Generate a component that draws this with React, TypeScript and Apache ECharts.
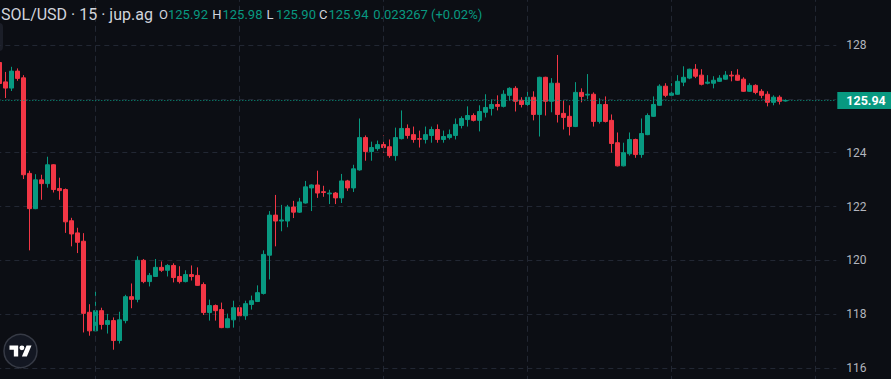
import React, { useEffect, useRef } from "react";
import * as echarts from "echarts";

// ---- data (15-minute candles, SOL/USD) ----
const opens = [
  127.35, 126.63, 126.40, 127.03, 126.78, 123.23, 121.92, 122.99, 122.85, 123.55,
  122.67, 122.63, 121.47, 121.02, 120.71, 118.07, 117.38, 118.13, 117.62, 117.76,
  117.02, 117.76, 118.65, 118.55, 120.00, 119.21, 119.40, 119.74, 119.63, 119.81,
  119.40, 119.21, 119.47, 119.44, 119.10, 118.06, 118.32, 118.17, 117.50, 117.79,
  118.24, 117.94, 118.36, 118.47, 118.77, 120.19, 121.68, 121.46, 121.46, 121.98,
  121.79, 122.13, 122.69, 122.80, 122.55, 122.47, 122.50, 122.32, 122.95, 122.69,
  123.36, 124.56, 124.04, 124.15, 124.30, 124.22, 123.89, 124.52, 124.90, 124.67,
  124.52, 124.49, 124.64, 124.86, 124.49, 124.56, 124.64, 125.01, 125.23, 125.38,
  125.20, 125.50, 125.64, 125.79, 125.72, 126.13, 126.39, 125.94, 125.79, 126.06,
  125.42, 126.80, 125.91, 126.58, 125.46, 125.35, 124.97, 126.24, 126.14, 126.17,
  125.16, 125.79, 125.20, 124.37, 123.51, 123.96, 124.49, 123.93, 124.67, 125.35,
  125.76, 126.47, 126.13, 126.17, 126.62, 126.77, 127.10, 126.88, 126.58, 126.58,
  126.65, 126.73, 126.88, 126.88, 126.73, 126.28, 126.50, 126.28, 126.17, 125.87,
  126.06, 125.92,
];
const highs = [
  127.45, 127.00, 127.19, 127.13, 126.88, 123.33, 123.20, 123.18, 123.85, 123.57,
  123.07, 122.67, 121.58, 121.21, 121.01, 118.37, 118.92, 118.24, 118.01, 117.88,
  118.09, 118.72, 119.14, 120.15, 120.05, 119.53, 120.05, 119.96, 119.86, 119.89,
  119.78, 119.63, 119.81, 119.74, 119.18, 118.54, 118.36, 118.43, 118.02, 118.50,
  118.32, 118.50, 118.69, 119.07, 120.37, 121.83, 122.43, 122.06, 122.06, 122.21,
  122.32, 122.95, 122.82, 123.33, 122.77, 122.62, 122.54, 123.21, 122.99, 123.55,
  125.27, 124.64, 124.41, 124.45, 124.64, 124.49, 124.93, 125.57, 125.05, 124.97,
  124.82, 124.97, 124.97, 125.05, 124.82, 124.86, 125.27, 125.35, 125.72, 125.46,
  125.76, 126.17, 125.98, 126.13, 126.32, 126.43, 126.47, 126.06, 126.28, 126.28,
  126.82, 126.82, 126.77, 127.63, 125.94, 125.76, 126.62, 126.39, 126.92, 126.24,
  126.02, 126.09, 125.42, 124.75, 124.37, 124.75, 124.52, 125.27, 125.46, 126.09,
  126.54, 126.58, 126.58, 126.88, 127.21, 127.12, 127.29, 127.10, 126.88, 126.84,
  126.88, 127.03, 127.03, 127.10, 126.80, 126.58, 126.54, 126.36, 126.28, 126.13,
  126.13, 125.98,
];
const lows = [
  126.52, 126.03, 126.29, 126.67, 123.02, 120.37, 121.90, 122.25, 122.70, 122.52,
  122.25, 121.02, 120.52, 120.27, 117.32, 117.20, 117.35, 117.43, 117.28, 116.68,
  116.91, 117.66, 118.22, 118.44, 119.15, 119.03, 119.38, 119.57, 119.40, 119.18,
  119.14, 119.18, 119.25, 119.05, 117.97, 117.76, 117.76, 117.48, 117.48, 117.50,
  117.83, 117.79, 118.17, 118.45, 118.73, 119.29, 120.52, 121.08, 121.23, 121.57,
  121.76, 122.11, 121.83, 122.32, 122.36, 122.09, 122.09, 122.13, 122.58, 122.54,
  123.33, 123.70, 123.70, 124.07, 124.00, 123.81, 123.70, 124.49, 124.52, 124.37,
  124.19, 124.34, 124.37, 124.37, 124.37, 124.49, 124.49, 124.90, 124.97, 125.16,
  124.79, 125.31, 125.38, 125.57, 125.68, 125.94, 125.53, 125.68, 125.68, 125.20,
  124.60, 125.38, 125.50, 125.12, 124.86, 124.64, 124.95, 125.87, 125.98, 124.97,
  125.08, 125.12, 124.00, 123.49, 123.49, 123.89, 123.81, 123.81, 124.65, 125.33,
  125.74, 126.06, 125.91, 126.15, 126.47, 126.73, 126.77, 126.50, 126.54, 126.39,
  126.63, 126.71, 126.65, 126.67, 126.26, 126.26, 126.17, 126.02, 125.72, 125.76,
  125.79, 125.90,
];
const closes = [
  126.57, 126.40, 127.03, 126.76, 123.18, 121.92, 122.99, 122.85, 123.55, 122.63,
  122.59, 121.43, 120.98, 120.67, 118.03, 117.38, 118.13, 117.62, 117.76, 117.02,
  117.79, 118.65, 118.55, 120.00, 119.21, 119.44, 119.74, 119.63, 119.81, 119.36,
  119.21, 119.47, 119.40, 119.07, 118.06, 118.32, 118.13, 117.50, 117.83, 118.24,
  117.94, 118.39, 118.50, 118.80, 120.22, 121.68, 121.46, 121.50, 121.98, 121.79,
  122.17, 122.73, 122.80, 122.50, 122.52, 122.50, 122.32, 122.95, 122.69, 123.40,
  124.56, 124.04, 124.19, 124.30, 124.19, 123.89, 124.56, 124.90, 124.64, 124.49,
  124.50, 124.67, 124.86, 124.49, 124.60, 124.67, 125.05, 125.27, 125.38, 125.20,
  125.53, 125.68, 125.79, 125.72, 126.17, 126.39, 125.91, 125.79, 126.06, 125.42,
  126.80, 125.91, 126.58, 125.42, 125.31, 124.97, 126.24, 126.09, 126.17, 125.16,
  125.79, 125.16, 124.34, 123.51, 124.00, 124.49, 123.93, 124.71, 125.38, 125.79,
  126.47, 126.13, 126.21, 126.65, 126.80, 127.10, 126.84, 126.54, 126.62, 126.69,
  126.77, 126.88, 126.85, 126.69, 126.28, 126.50, 126.24, 126.13, 125.87, 126.06,
  125.91, 125.94,
];

// category slots: one per 15 minutes, starting 20:00 of the previous day
const slotCount = 140;
const times: string[] = [];
for (let i = 0; i < slotCount; i++) {
  const mins = 20 * 60 + i * 15;
  const day = Math.floor(mins / 1440) + 1;
  const hh = Math.floor((mins % 1440) / 60);
  const mm = mins % 60;
  times.push(`D${day} ${String(hh).padStart(2, "0")}:${String(mm).padStart(2, "0")}`);
}
const gridTimes = ["D2 00:00", "D2 06:00", "D2 12:00", "D2 18:00", "D3 00:00", "D3 06:00"];
const priceTicks = { min: 114, max: 130, interval: 2 };
const lastPrice = 125.94;

const header = {
  title: "SOL/USD · 15 · jup.ag",
  o: "125.92",
  h: "125.98",
  l: "125.90",
  c: "125.94",
  change: "0.023267",
  pct: "(+0.02%)",
};

echarts.graphic.registerShape(
  "tvlogo",
  echarts.graphic.extendPath(
    "M14 22H7V11H0V4h14v18zM28 22h-8l7.5-18h8L28 22zM24 8a4 4 0 1 1 -8 0a4 4 0 1 1 8 0z",
    {}
  )
);

const UP = "#089981";
const DOWN = "#f23645";
const BG = "#0c0e14";
const GRID = "#222733";
const TEXT = "#d1d4dc";
const FONT = "Roboto, 'Noto Sans', sans-serif";

// the chart canvas is larger than the visible window and offset by (OX, OY)
const OX = 10;
const OY = 20;
const CW = 891 + OX;
const CH = 379 + OY + 60;

export default function App() {
  const ref = useRef<HTMLDivElement>(null);
  useEffect(() => {
    document.body.style.margin = "0";
    document.body.style.background = BG;
    const chart = echarts.init(ref.current!, null, { renderer: "svg" });
    const data = opens.map((o, i) => [o, closes[i], lows[i], highs[i]]);
    const headerText = (text: string, x: number, color: string, size: number) => ({
      type: "text",
      x: x + OX,
      y: 14 + OY,
      style: {
        text,
        fill: color,
        fontSize: size,
        fontFamily: FONT,
        verticalAlign: "middle",
        align: "left",
      },
      z: 100,
    });
    chart.setOption({
      animation: false,
      backgroundColor: BG,
      grid: { left: OX - 3.7, width: 840, top: OY - 8.83, height: 430.66, containLabel: false },
      xAxis: {
        type: "category",
        data: times,
        boundaryGap: true,
        axisLine: { show: false },
        axisTick: { show: false },
        axisLabel: { show: false },
        splitLine: { show: false },
      },
      yAxis: {
        type: "value",
        position: "right",
        min: priceTicks.min,
        max: priceTicks.max,
        interval: priceTicks.interval,
        axisLine: { show: false },
        axisTick: { show: false },
        axisLabel: {
          color: "#b2b5be",
          fontSize: 12,
          fontFamily: FONT,
          margin: 10,
          showMinLabel: false,
          showMaxLabel: false,
          formatter: (v: number) => (v === 126 ? "" : String(v)),
        },
        splitLine: { show: true, lineStyle: { color: GRID, type: [5, 4], width: 1 } },
      },
      series: [
        {
          type: "candlestick",
          data,
          barWidth: 4,
          itemStyle: {
            color: UP,
            color0: DOWN,
            borderColor: UP,
            borderColor0: DOWN,
            borderWidth: 1,
          },
          markLine: {
            silent: true,
            symbol: "none",
            animation: false,
            data: [
              ...gridTimes.map((t) => ({
                xAxis: t,
                lineStyle: { color: GRID, type: [6, 4], width: 1 },
                label: { show: false },
              })),
              {
                yAxis: lastPrice,
                lineStyle: { color: UP, type: [1, 2], width: 1 },
                label: {
                  show: true,
                  position: "end",
                  distance: 1,
                  formatter: lastPrice.toFixed(2),
                  backgroundColor: UP,
                  color: "#ffffff",
                  fontSize: 12.5,
                  fontWeight: "bold",
                  fontFamily: FONT,
                  padding: [3, 6, 2, 9],
                  lineHeight: 12,
                },
              },
            ],
          },
        },
      ],
      graphic: [
        {
          type: "rect",
          shape: { x: OX - 10, y: OY + 23, width: 13, height: 28, r: 4 },
          style: { fill: "#1b1e28" },
        },
        headerText(header.title, 1, TEXT, 16),
        headerText("O", 159, TEXT, 13),
        headerText(header.o, 168, UP, 13),
        headerText("H", 212.3, TEXT, 13),
        headerText(header.h, 222.5, UP, 13),
        headerText("L", 266.6, TEXT, 13),
        headerText(header.l, 276, UP, 13),
        headerText("C", 319, TEXT, 13),
        headerText(header.c, 328.5, UP, 13),
        headerText(header.change, 373.3, UP, 13),
        headerText(header.pct, 431, UP, 13),
        {
          type: "circle",
          shape: { cx: 20.5 + OX, cy: 351 + OY, r: 16.5 },
          style: { fill: "#131722", stroke: "#363a45", lineWidth: 1.5 },
          z: 100,
        },
        {
          type: "tvlogo",
          x: 9.5 + OX,
          y: 342.9 + OY,
          scaleX: 0.62,
          scaleY: 0.62,
          style: { fill: "#ffffff" },
          z: 101,
        },
      ],
    });
    return () => chart.dispose();
  }, []);
  return (
    <div style={{ position: "relative", width: 891, height: 379, overflow: "hidden", background: BG }}>
      <div ref={ref} style={{ position: "absolute", left: -OX, top: -OY, width: CW, height: CH }} />
    </div>
  );
}
